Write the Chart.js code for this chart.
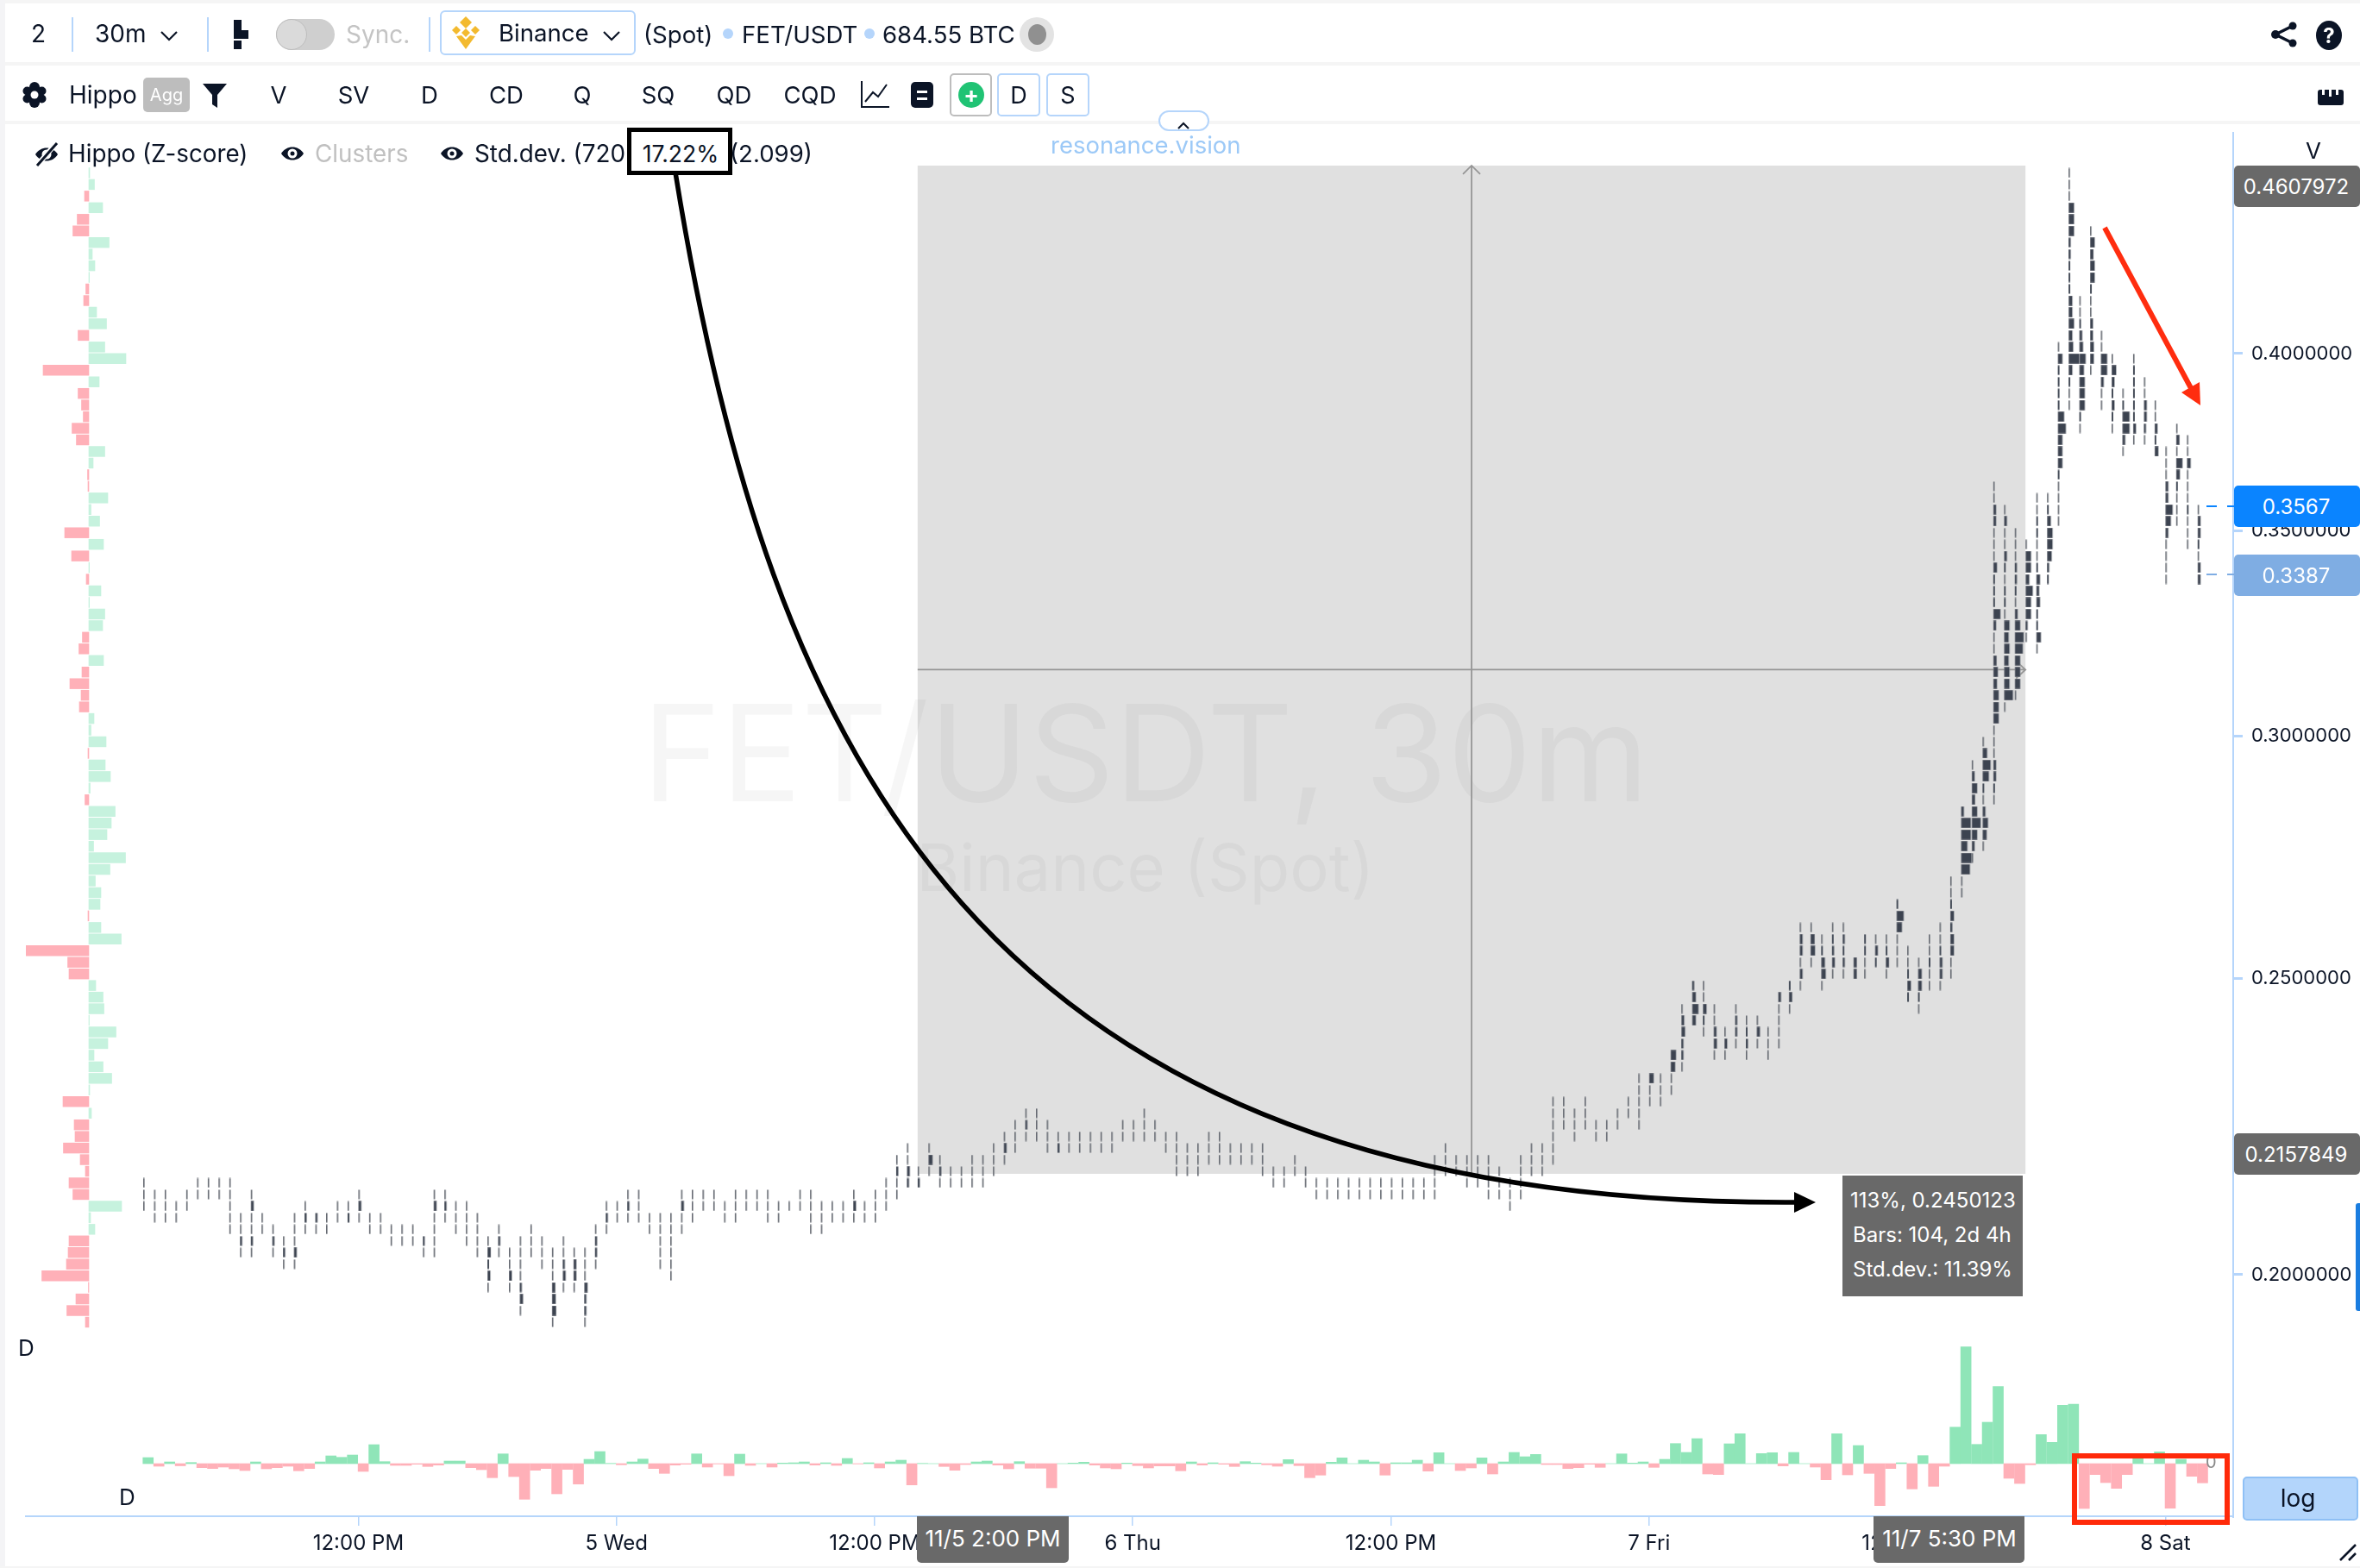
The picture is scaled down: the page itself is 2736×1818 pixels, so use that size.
<!DOCTYPE html>
<html><head><meta charset="utf-8"><title>FET/USDT 30m</title>
<script src="https://cdn.jsdelivr.net/npm/chart.js@4"></script>
<style>
html,body{margin:0;padding:0;background:#fff;width:2736px;height:1818px;overflow:hidden;font-family:Inter,"Liberation Sans",sans-serif;color:#0b1426}
#wrap{position:relative;width:2736px;height:1818px;overflow:hidden}
canvas{position:absolute;left:0;top:0}
.a{position:absolute;white-space:nowrap}
</style></head><body><div id="wrap"><canvas id="c" width="2736" height="1818"></canvas></div>
<script>
// ---- data ----
const barTimeStart = '2024-11-04 02:00';
const lastPrice = 0.3387, bidPrice = 0.3567;
const rangeHigh = 0.4607972, rangeLow = 0.2157849, rangeStartBar = 72, rangeEndBar = 175;
const priceTicks = [0.2, 0.25, 0.3, 0.35, 0.4];
const xTickBars = [20, 44, 68, 92, 116, 140, 164, 188];
const xTickLabels = ['12:00 PM', '5 Wed', '12:00 PM', '6 Thu', '12:00 PM', '7 Fri', '12:00 PM', '8 Sat'];
// price ladder of the footprint cells
const ladderBase = 0.192987, ladderStep = 1.008774;
// per 30m bar: lowest and highest ladder row
const barLowRow = [10,9,9,9,10,11,11,11,8,6,6,8,6,5,5,8,8,8,9,9,9,8,8,7,7,7,6,6,9,8,7,6,3,6,3,1,6,5,0,3,3,0,5,8,9,9,9,8,5,4,8,9,10,10,9,9,10,10,9,9,10,10,8,8,9,9,9,9,9,10,11,12,12,13,12,12,12,12,12,13,14,15,16,16,15,15,15,15,15,15,15,16,16,16,16,15,13,13,13,14,14,14,14,14,13,12,12,13,12,11,11,11,11,11,11,11,11,11,11,11,11,13,13,12,12,11,11,10,11,13,13,14,17,16,17,16,16,17,18,17,19,19,20,22,26,25,23,23,24,23,24,23,24,27,29,31,29,30,30,30,30,31,30,31,28,27,29,29,30,37,40,41,45,53,54,59,58,64,69,79,77,82,79,77,75,76,76,75,64,69,67,64];
const barHighRow = [12,11,11,10,11,12,12,12,12,9,11,9,8,7,9,10,9,9,10,10,11,9,9,8,8,8,7,11,11,10,10,9,7,8,6,7,8,7,6,7,6,6,8,10,10,11,11,9,9,9,11,11,11,11,10,11,11,11,11,10,10,11,11,10,10,10,11,10,11,12,14,15,13,15,14,13,13,14,14,15,16,17,18,18,17,16,16,16,16,16,16,17,17,18,17,16,16,15,15,16,16,15,15,15,15,13,13,14,13,12,12,12,12,12,12,12,12,12,12,12,14,15,14,14,14,14,13,12,14,15,15,19,19,18,19,17,17,18,19,21,21,21,23,27,29,29,27,25,27,26,26,25,28,29,34,34,33,34,34,31,33,33,33,36,32,31,33,34,38,44,48,50,72,70,68,67,71,71,84,99,88,94,85,83,80,83,81,79,75,77,76,70];
// cells with more volume: [bar, row, volume]
const cellVolumes = [[9,7,2.5],[10,10,3],[10,7,2.5],[12,7,2.5],[13,6,2.5],[14,6,3],[15,9,2.5],[16,9,2.5],[19,9,2.2],[20,10,3],[26,7,2.2],[27,10,3],[28,10,2.5],[32,6,3.5],[32,5,2],[32,4,3],[33,7,2.5],[34,4,3],[35,3,2.5],[35,2,3.5],[38,3,3.5],[38,2,4],[38,1,4.5],[39,4,3],[39,5,2.5],[40,4,3],[40,5,3],[41,1,2.5],[41,2,2.5],[41,3,3.5],[42,6,2.5],[42,7,2.5],[43,9,2.5],[45,10,2.5],[50,10,3],[66,10,3],[70,13,2.5],[71,12,2.5],[71,13,3],[72,12,2.5],[73,14,4.5],[74,13,2.5],[80,15,3],[82,17,2.5],[85,15,2.5],
[140,21,5],[142,23,6],[142,22,5],[143,25,4],[143,26,3],[143,24,2.5],[143,23,2.5],[144,27,7],[144,28,4],[144,26,4],[144,29,2.5],[145,27,4],[145,26,2],[146,25,3],[146,24,3.5],[147,24,3],[148,25,2.5],[148,26,2.5],[149,24,2.5],[149,25,2],[150,25,3.5],[152,28,3],[153,28,3.5],[153,29,2],[154,33,3],[154,32,3],[154,30,3],[155,33,4.5],[155,32,5],[156,31,4],[156,30,5],[156,32,2],[157,33,2],[157,32,2.5],[157,31,3],[158,33,2.5],[158,32,2],[158,31,2.5],
[159,30,3.5],[159,31,3.5],[160,32,2],[160,33,2],[161,32,3],[161,31,2],[162,31,3.5],[162,32,2],[163,36,2],[163,35,8],[163,34,6],[164,30,2],[164,29,4],[164,28,2],[165,30,4],[165,29,4],[165,28,2],[166,31,2],[167,30,3],[167,31,3],[167,32,2],[168,33,4],[168,32,4],[168,34,2.5],[168,35,4],[168,36,2],
[169,44,3],[169,43,11],[169,42,11],[169,41,7],[169,40,12],[169,39,10],[170,47,3],[170,46,6],[170,45,3.5],[170,44,6],[170,43,10],[170,42,6],[170,41,3],[171,49,5],[171,48,9],[171,47,7],[171,46,2],[171,44,3],[171,43,6],[171,42,4.5],
[172,46,2],[172,47,3],[172,48,3],[172,52,6],[172,53,6],[172,54,6],[172,55,4],[172,56,5],[172,57,3.5],[172,60,3],[172,61,8],[172,62,2],[172,63,2],[172,64,2],[172,65,4],[172,69,3],[172,70,3],
[173,54,10],[173,55,6],[173,56,6],[173,57,5],[173,58,6],[173,59,5],[173,60,6],[173,62,2],[173,63,2],[173,65,2],[173,66,3],[173,69,3],
[174,55,6],[174,56,6],[174,57,6],[174,58,9],[174,59,10],[174,60,6],[174,61,3],[174,63,2],[174,64,2.5],[174,65,2.5],
[175,60,2.5],[175,61,6],[175,62,6],[175,63,8],[175,64,4],[175,65,6],[175,66,6],
[176,59,5],[176,60,2],[176,61,2],[176,62,4],[176,63,3],[176,64,4],[176,65,2],[176,68,2],[176,69,2],
[177,64,2],[177,65,2.5],[177,66,5],[177,67,6],[177,68,6],[177,69,4],[177,70,2],
[178,83,5],[178,82,2],[178,81,2],[178,80,2],[178,79,2],[178,78,7],[178,77,9],[178,76,5],[178,75,5],[178,74,5],[178,73,2],
[179,96,6],[179,95,6],[179,94,6],[179,93,2.5],[179,92,2.5],[179,91,2],[179,90,2],[179,89,2],[179,88,4],[179,87,4],[179,86,6],[179,85,4],[179,84,5],[179,83,12],[179,82,4],[179,81,2],
[180,86,2],[180,85,3],[180,84,4],[180,83,7],[180,82,5],[180,81,6],[180,80,6],[180,79,6],[180,78,2],
[181,93,5],[181,92,3.5],[181,91,5],[181,90,5],[181,89,2],[181,86,3],[181,85,3],[181,84,4],[181,83,4],
[182,83,7],[182,82,7],[182,81,3],[183,82,5],[183,81,3],[183,80,2],[183,79,3],[183,78,2],
[184,79,2],[184,78,8],[184,77,8],[184,76,3],[185,82,2],[185,81,2],[185,80,2],[185,79,2],[185,78,2],[185,77,3],
[186,79,3],[186,78,3],[186,77,2.5],[187,77,3],[187,76,2],[187,75,4],
[188,72,3],[188,71,3],[188,70,8],[188,69,6],[188,68,3],[189,76,3.5],[189,74,7],[189,73,4],[189,72,2],[190,74,4],[190,70,2],[191,69,3],[191,68,3],[191,67,2],[191,65,3],[191,64,3]];
// delta per 30m bar
const deltaValues = [7,-3,2,-2.5,1.3,-4.7,-5.7,-4,-6,-8,2,-6,-4.7,-3,-8.3,-5.7,2,9,7.3,10,-9,22,2.3,-2,-2,-0.7,-3.3,-1.7,3,3,-4.7,-7,-16.3,11.3,-15,-41.3,-7.7,-5.7,-35,-6.7,-23.7,5,14,0.3,-1.3,2,5.3,-5.7,-11.3,-1.7,-0.7,11.3,-4,-0.3,-14,11,-2,0,-4,0.7,1,2,-1.7,1,-2,6,-0.3,1,-5,2,4,-24.7,0.3,0,-3.3,-7.7,-1,2,3,-1.7,-6,2.3,-5.3,-5.3,-28,0,0.7,1.7,-1.7,-5,-6,0.7,-2.3,-5,-2.7,-2.7,-8.3,2,-1.7,1,-0.7,-3.3,2.3,0.7,-1.3,-3,4.7,-2.3,-16.3,-13.3,1.7,6.7,0,4,2,-13.3,1,1,4,-8.7,12.7,0,-8,-5,6.7,-12,2,13,8,10.7,-1,-1,-5.7,-4.7,-0.7,-4.3,0,11.3,0.7,2,-4.3,5,23.3,13,29,-12,-12.7,23,34.7,0,11.7,12.7,-2.7,13,0,-4,-18.7,34.7,-13,21,-11.3,-48.7,-5.7,1,-29.3,9.3,-26.3,-3,42.3,135.3,22.3,48,89.3,-17,-23,-1.3,33.7,24.7,67.7,69,-52,-12.7,-22,-28.7,-12.7,8,0,13.7,-51.7,5,-14.7,-22.3];
// left volume-profile delta per ladder row, from row 0 upward
const profileDelta = [-4,-25.5,-15,-0.5,-54.5,-26,-24,-23,7,2,38,-18.5,-23,-4,-10,-29.5,-16,-17,3,-30,1,26.5,16.5,6,22,31.5,0.5,17.5,16.5,8,-23,-24.5,-73,37.5,14,-1,13,14,7.5,24.5,42.5,5.5,21,26,30.5,-4.5,1.5,25,19,-1,20,2.5,6,-11,-9,-22,-8,17,-11.5,-7.5,16,18.5,0.7,14,-3,0.7,-20,17,-28,12.5,2.5,22,-1,-1.5,5,18.5,-14.5,-19.5,-6.5,-8.5,-12.5,12,-53,43,18.5,-12.5,20.5,9,-6,-3.5,0.7,7,4,23.5,-18.5,-13.5,16,-5,6.5,1];

// ---- build ----
const volMap = new Map(cellVolumes.map(c => [c[0] + ':' + c[1], c[2]]));
const footprint = [];
barLowRow.forEach((lo, i) => { for (let r = lo; r <= barHighRow[i]; r++) {
  footprint.push({x: i, y: ladderBase * Math.pow(ladderStep, r), v: volMap.get(i + ':' + r) || 1.6});
}});
const styleCache = {};
function cellStyle(v) {
  if (styleCache[v]) return styleCache[v];
  const hw = Math.ceil(v) + 2, cv = document.createElement('canvas');
  cv.width = hw * 2; cv.height = 12;
  const g = cv.getContext('2d');
  if (v >= 3) { g.fillStyle = '#9a9da3'; g.fillRect(hw, 0, v + 0.6, 12); g.fillStyle = '#3c4350'; g.fillRect(hw + 0.5, 0.5, v - 0.4, 11); }
  else { g.fillStyle = v >= 1.9 ? '#474e5a' : '#666a72'; g.fillRect(hw, 0.5, v, 11); }
  return styleCache[v] = cv;
}
const GREEN_D = '#8fe5b8', RED_D = '#ffb0b8', GREEN_P = '#c6f2de', RED_P = '#ffb0b8';
const AXIS = '#b5d5fb', INK = '#0b1426';

const rangePlugin = { id: 'range',
  beforeDatasetsDraw(ch) {
    const g = ch.ctx, X = ch.scales.x, Y = ch.scales.y;
    const l = X.getPixelForValue(rangeStartBar), r = X.getPixelForValue(rangeEndBar);
    const t = Y.getPixelForValue(rangeHigh), b = Y.getPixelForValue(rangeLow);
    g.save(); g.fillStyle = '#e0e0e0'; g.fillRect(l, t, r - l, b - t);
    g.fillStyle = 'rgba(0,0,0,0.035)'; g.textAlign = 'center'; g.textBaseline = 'middle';
    g.font = '155px Inter'; g.fillText('FET/USDT, 30m', 1328, 882);
    g.font = '76px Inter'; g.fillText('Binance (Spot)', 1328, 1010);
    const mx = (l + r) / 2, my = (t + b) / 2;
    g.strokeStyle = '#969696'; g.lineWidth = 1.8;
    g.beginPath(); g.moveTo(mx, t); g.lineTo(mx, b); g.moveTo(l, my); g.lineTo(r, my);
    g.moveTo(mx - 10, t + 10); g.lineTo(mx, t); g.lineTo(mx + 10, t + 10);
    g.moveTo(r - 11, my - 10); g.lineTo(r, my); g.lineTo(r - 11, my + 10); g.stroke();
    g.restore();
  },
  afterDatasetsDraw(ch) {
    const g = ch.ctx; g.save();
    g.strokeStyle = '#000'; g.lineWidth = 5.5; g.beginPath(); g.moveTo(783, 200);
    g.bezierCurveTo(890, 861, 1127, 1400, 2085, 1394); g.stroke();
    g.fillStyle = '#000'; g.beginPath(); g.moveTo(2105, 1394); g.lineTo(2080, 1382); g.lineTo(2080, 1406); g.closePath(); g.fill();
    g.strokeStyle = '#ff2d0f'; g.lineWidth = 6; g.beginPath(); g.moveTo(2440, 264); g.lineTo(2540, 450); g.stroke();
    g.fillStyle = '#ff2d0f'; g.beginPath(); g.moveTo(2551, 470); g.lineTo(2529, 455); g.lineTo(2550, 443); g.closePath(); g.fill();
    g.restore();
  }
};

new Chart(document.getElementById('c'), {
  data: { datasets: [
    { type: 'scatter', label: 'Footprint', data: footprint, xAxisID: 'x', yAxisID: 'y', showLine: false, clip: false,
      pointRadius: 1, pointHoverRadius: 1, pointStyle: c => c.raw ? cellStyle(c.raw.v) : 'circle' },
    { type: 'bar', label: 'D', data: deltaValues.map((d, i) => ({x: i, y: d})), xAxisID: 'xD', yAxisID: 'yD', grouped: false,
      barThickness: 12, backgroundColor: c => c.raw && c.raw.y < 0 ? RED_D : GREEN_D },
    { type: 'bar', label: 'Profile', indexAxis: 'y', data: profileDelta.map((d, r) => ({x: d, y: r})), xAxisID: 'xP', yAxisID: 'yR', grouped: false,
      barThickness: 11.8, backgroundColor: c => c.raw && c.raw.x < 0 ? RED_P : GREEN_P }
  ]},
  plugins: [rangePlugin],
  options: {
    responsive: false, animation: false, devicePixelRatio: 1, events: [],
    layout: { padding: { top: 154, left: 30, right: 0, bottom: 0 } },
    plugins: { legend: { display: false }, tooltip: { enabled: false } },
    scales: {
      x: { type: 'linear', axis: 'x', position: 'bottom', offset: false, min: -10.906, max: 194.31,
        afterBuildTicks: s => { s.ticks = xTickBars.map(v => ({value: v})); },
        afterFit: s => { s.height = 60; },
        ticks: { autoSkip: false, maxRotation: 0, padding: 6, color: INK, font: {family: 'Inter', size: 24},
          callback: v => xTickLabels[xTickBars.indexOf(v)] },
        grid: { drawOnChartArea: false, color: AXIS, lineWidth: 1.5, tickLength: 11 },
        border: { color: AXIS, width: 2 } },
      y: { type: 'logarithmic', axis: 'y', position: 'right', offset: false, min: 0.166766, max: 0.472294,
        afterBuildTicks: s => { s.ticks = priceTicks.map(v => ({value: v})); },
        afterFit: s => { s.width = 147; },
        ticks: { autoSkip: false, padding: 10, color: INK, font: {family: 'Inter', size: 22},
          callback: v => Number(v).toFixed(7) },
        grid: { drawOnChartArea: false, color: AXIS, lineWidth: 3, tickLength: 11 },
        border: { color: AXIS, width: 2 } },
      xD: { type: 'linear', axis: 'x', display: false, offset: false, min: -11.366, max: 193.85 },
      yD: { type: 'linear', axis: 'y', display: false, offset: false, min: -61, max: 1543 },
      xP: { type: 'linear', axis: 'x', display: false, offset: false, min: -73, max: 2486 },
      yR: { type: 'linear', axis: 'y', display: false, offset: false, min: -16.716, max: 102.45 }
    }
  }
});

// ---- page furniture ----
const wrap = document.getElementById('wrap');
function box(x, y, w, h, css) { const d = document.createElement('div'); d.className = 'a';
  d.style.cssText = `left:${x}px;top:${y}px;width:${w}px;height:${h}px;box-sizing:border-box;` + (css || ''); wrap.appendChild(d); return d; }
function txt(x, y, s, size, css) { const d = document.createElement('div'); d.className = 'a'; d.textContent = s;
  d.style.cssText = `left:${x}px;top:${y}px;transform:translateY(-50%);font-size:${size || 27}px;` + (css || ''); wrap.appendChild(d); return d; }
function mid(x, y, s, size, css) { return txt(x, y, s, size, 'transform:translate(-50%,-50%);' + (css || '')); }
function icon(x, y, w, h, vb, inner) { const d = document.createElement('div'); d.className = 'a';
  d.style.cssText = `left:${x}px;top:${y}px;width:${w}px;height:${h}px`;
  d.innerHTML = `<svg xmlns="http://www.w3.org/2000/svg" width="${w}" height="${h}" viewBox="${vb}">${inner}</svg>`; wrap.appendChild(d); }

// strips
box(0, 0, 2736, 4, 'background:#f5f5f5'); box(0, 72, 2736, 4, 'background:#f5f5f5'); box(0, 140, 2736, 4, 'background:#f5f5f5');
box(0, 0, 6, 1818, 'background:#f4f4f6'); box(0, 1816, 2736, 2, 'background:#f5f5f5');

// row 1
txt(36, 39, '2', 28); box(83, 20, 1.5, 40, 'background:#b5d5fb');
txt(110, 39, '30m', 28);
const chev = (cx, cy) => icon(cx - 11, cy - 7, 22, 14, '0 0 22 14', '<path d="M2 2l9 9 9-9" fill="none" stroke="#0b1426" stroke-width="2.2"/>');
chev(196, 40); box(240, 20, 1.5, 40, 'background:#b5d5fb');
icon(270, 22, 18, 36, '0 0 18 36', '<rect x="1" y="1" width="9" height="12" fill="#0b1426"/><rect x="1" y="13" width="17" height="10" fill="#0b1426"/><rect x="1" y="25" width="9" height="10" fill="#0b1426"/>');
box(320, 22, 68, 36, 'background:#cfcfcf;border-radius:18px'); box(320, 22, 36, 36, 'background:#dadada;border:1.5px solid #bdbdbd;border-radius:18px');
txt(401, 40, 'Sync.', 28, 'color:#c4c4c4'); box(497, 20, 1.5, 40, 'background:#b5d5fb');
box(510, 12, 227, 52, 'border:2px solid #b5d5fb;border-radius:6px');
icon(522, 18, 36, 40, '0 0 36 40', '<g fill="#f3ba2f"><path d="M18 1l7 7-7 7-7-7z"/><path d="M7 12l5 5-5 5-5-5z"/><path d="M29 12l5 5-5 5-5-5z"/><path d="M18 15l5 5-5 5-5-5z"/><path d="M7 24l6-1 5 5 5-5 6 1-11 15z"/></g>');
txt(578, 38, 'Binance', 27.6); chev(709, 40);
txt(746, 40, '(Spot)', 27.6); box(838, 33, 12, 12, 'background:#b5d5fb;border-radius:50%');
txt(860, 40, 'FET/USDT', 27.6); box(1002, 33, 12, 12, 'background:#b5d5fb;border-radius:50%');
txt(1023, 40, '684.55 BTC', 27.6);
box(1182, 20, 40, 40, 'background:#e3e3e3;border-radius:50%'); box(1192, 28, 21, 24, 'background:#909090;border-radius:50%');
icon(2632, 24, 32, 32, '0 0 32 32', '<g fill="#0b1426"><circle cx="26" cy="6" r="4.5"/><circle cx="26" cy="26" r="4.5"/><circle cx="6" cy="16" r="5"/></g><path d="M26 6L6 16l20 10" fill="none" stroke="#0b1426" stroke-width="3.5"/>');
box(2685, 24, 30, 34, 'background:#0b1426;border-radius:50%'); mid(2700, 41, '?', 24, 'color:#fff;font-weight:700');

// row 2
icon(26, 94, 28, 32, '0 0 28 32', '<g fill="#0b1426"><circle cx="14" cy="7" r="6"/><circle cx="14" cy="25" r="6"/><circle cx="5.5" cy="11.5" r="5"/><circle cx="22.5" cy="11.5" r="5"/><circle cx="5.5" cy="20.5" r="5"/><circle cx="22.5" cy="20.5" r="5"/><circle cx="14" cy="16" r="10"/></g><circle cx="14" cy="16" r="4.5" fill="#fff"/>');
txt(80, 110, 'Hippo', 28);
box(166, 90, 54, 40, 'background:#bdbdbd;border-radius:5px'); mid(193, 110, 'Agg', 20, 'color:#fff');
icon(234, 96, 30, 30, '0 0 30 30', '<path d="M1 1h28L18 14v15l-6-4V14z" fill="#0b1426"/>');
[['V',323],['SV',410],['D',498],['CD',587],['Q',675],['SQ',763],['QD',851],['CQD',939]].forEach(p => mid(p[1], 110, p[0], 27.5));
icon(997, 94, 34, 32, '0 0 34 32', '<path d="M2 0v30h32M6 24l9-11 6 5 10-14" fill="none" stroke="#0b1426" stroke-width="2"/>');
box(1056, 95, 26, 30, 'background:#0b1426;border-radius:5px'); box(1063, 105, 12, 2.5, 'background:#fff'); box(1063, 113, 12, 2.5, 'background:#fff');
box(1101, 85, 49, 50, 'border:2px solid #bdbdbd;border-radius:5px'); box(1111, 95, 30, 30, 'background:#20c374;border-radius:50%'); mid(1126, 109, '+', 26, 'color:#fff;font-weight:700');
box(1156, 85, 50, 50, 'border:2px solid #b5d5fb;border-radius:5px'); mid(1181, 110, 'D', 27);
box(1213, 85, 50, 50, 'border:2px solid #b5d5fb;border-radius:5px'); mid(1238, 110, 'S', 27);
icon(2687, 104, 30, 18, '0 0 30 18', '<path d="M0 3q0-3 3-3h2v6h3V0h5v8h3V0h5v6h3V0h3q3 0 3 3v12q0 3-3 3H3q-3 0-3-3z" fill="#0b1426"/>');

// row 3
const eyePath = '<path d="M1 13C7 3 21 3 27 13C21 23 7 23 1 13Z" fill="#0b1426"/><circle cx="14" cy="13" r="5.5" fill="#fff"/><circle cx="14" cy="13" r="2.5" fill="#0b1426"/>';
const eye = x => icon(x, 165, 28, 26, '0 0 28 26', eyePath);
icon(38, 164, 32, 30, '0 0 32 30', '<g transform="translate(2,2)">' + eyePath + '</g><path d="M28 1L4 29" stroke="#fff" stroke-width="6"/><path d="M28 2L5 28" stroke="#0b1426" stroke-width="3"/>');
txt(79, 178, 'Hippo (Z-score)', 27.8); eye(325); txt(365, 178, 'Clusters', 27.8, 'color:#c0c0c0');
eye(510); txt(550, 178, 'Std.dev. (720', 27.8); txt(846, 178, '(2.099)', 27.6);
box(727, 148, 122, 55, 'border:5px solid #000;background:#fff'); mid(789, 178, '17.22%', 26.5);
txt(1218, 168, 'resonance.vision', 27.5, 'color:#9cc9f7');
box(1343, 128, 59, 24, 'background:#fff;border:2px solid #b5d5fb;border-radius:12px');
icon(1364, 135, 16, 10, '0 0 16 10', '<path d="M2 8l6-6 6 6" fill="none" stroke="#0b1426" stroke-width="2"/>');

// right labels
mid(2682, 174, 'V', 26);
function priceTag(y, s, bg) { box(2590, y - 24, 146, 48, `background:${bg};border-radius:5px`); mid(2662, y, s, 24, 'color:#fff'); }
priceTag(216, rangeHigh.toFixed(7), '#696969');
priceTag(1338, rangeLow.toFixed(7), '#696969');
box(2558, 586, 12, 2, 'background:#0a84ff'); box(2582, 586, 8, 2, 'background:#0a84ff');
box(2558, 665, 12, 2, 'background:#7fade3'); box(2582, 665, 8, 2, 'background:#7fade3');
priceTag(587, bidPrice.toFixed(4), '#0a84ff');
priceTag(667, lastPrice.toFixed(4), '#7fade3');
box(2731, 1395, 5, 125, 'background:#1a7de0;border-radius:3px 0 0 3px');

// range label
box(2136, 1363, 209, 140, 'background:#696969');
txt(2145, 1391, '113%, 0.2450123', 24, 'color:#fff'); txt(2148, 1431, 'Bars: 104, 2d 4h', 24, 'color:#fff'); txt(2148, 1471, 'Std.dev.: 11.39%', 24, 'color:#fff');

// sub panel labels
txt(21, 1562, 'D', 26); txt(138, 1735, 'D', 26);
txt(2557, 1695, '0', 20, 'color:#8a8a8a');
box(2402, 1685, 183, 83, 'border:6px solid #ff2a0a');
box(2600, 1712, 134, 51, 'background:#b3d5fb;border:2px solid #8fc0f5;border-radius:5px'); mid(2664, 1737, 'log', 28);
box(1063, 1758, 176, 54, 'background:#696969;border-radius:0 0 5px 5px'); mid(1151, 1783, '11/5 2:00 PM', 26, 'color:#fff');
box(2172, 1758, 175, 54, 'background:#696969;border-radius:0 0 5px 5px'); mid(2260, 1783, '11/7 5:30 PM', 26, 'color:#fff');
icon(2710, 1790, 26, 20, '0 0 26 20', '<path d="M3 19L21 1M13 19l8-8" stroke="#0b1426" stroke-width="2.5" fill="none"/>');
</script></body></html>
